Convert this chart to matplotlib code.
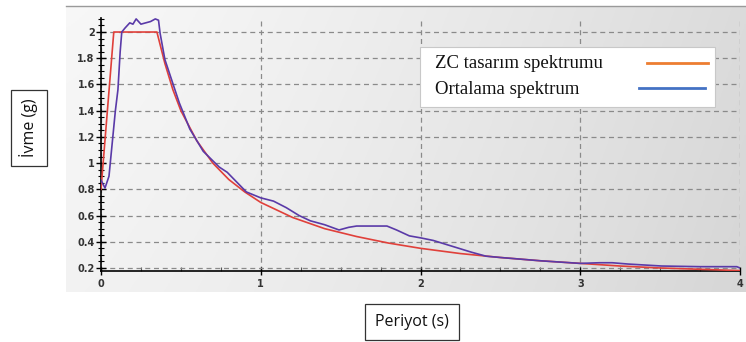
import numpy as np
import matplotlib
matplotlib.use("Agg")
import matplotlib.pyplot as plt
from matplotlib.patches import Rectangle
from matplotlib.lines import Line2D
from matplotlib.ticker import MultipleLocator, FuncFormatter

# ---- data ----
zc_T = [0.0, 0.08, 0.35, 0.40, 0.45, 0.50, 0.60, 0.70, 0.80, 0.90, 1.00, 1.20, 1.40,
        1.60, 1.80, 2.00, 2.25, 2.50, 2.75, 3.00, 3.25, 3.50, 3.75, 4.00]
zc_Sa = [0.80, 2.00, 2.00, 1.76, 1.56, 1.40, 1.17, 1.00, 0.875, 0.78, 0.70, 0.585, 0.50,
         0.44, 0.39, 0.35, 0.31, 0.28, 0.255, 0.235, 0.215, 0.20, 0.19, 0.18]

avg_T = [0.0, 0.025, 0.05, 0.07, 0.09, 0.106, 0.12, 0.13, 0.15, 0.18, 0.20, 0.22, 0.25,
         0.28, 0.31, 0.34, 0.36, 0.37, 0.40, 0.43, 0.49, 0.556, 0.64, 0.74, 0.79, 0.91,
         1.00, 1.08, 1.16, 1.24, 1.31, 1.40, 1.49, 1.55, 1.60, 1.79, 1.85, 1.93, 2.00,
         2.08, 2.16, 2.24, 2.32, 2.41, 2.50, 2.75, 3.00, 3.12, 3.20, 3.30, 3.51, 3.75,
         3.98, 4.00]
avg_Sa = [0.87, 0.81, 0.90, 1.15, 1.40, 1.56, 1.85, 2.00, 2.03, 2.07, 2.06, 2.10, 2.06,
          2.07, 2.08, 2.10, 2.09, 1.99, 1.79, 1.68, 1.46, 1.26, 1.09, 0.97, 0.93, 0.78,
          0.735, 0.71, 0.66, 0.60, 0.56, 0.53, 0.49, 0.51, 0.52, 0.52, 0.49, 0.445, 0.43,
          0.41, 0.38, 0.35, 0.32, 0.29, 0.28, 0.255, 0.235, 0.24, 0.24, 0.23, 0.215, 0.21,
          0.21, 0.20]

x_ticks = [0, 1, 2, 3, 4]
y_ticks = [0.2, 0.4, 0.6, 0.8, 1.0, 1.2, 1.4, 1.6, 1.8, 2.0]
legend_labels = ["ZC tasarım spektrumu", "Ortalama spektrum"]
x_label = "Periyot (s)"
y_label = "İvme (g)"

W, H = 746, 342
fig = plt.figure(figsize=(W / 100, H / 100), dpi=100)
fig.patch.set_facecolor("white")

def fx(px):
    return px / W

def fy(py):
    return 1 - py / H

# gray gradient panel
bx0, by0, bx1, by1 = 66, 6, 746, 292
bg = fig.add_axes([fx(bx0), fy(by1), fx(bx1 - bx0), (by1 - by0) / H], zorder=0)
gx = np.linspace(0, 1, 300)
gy = np.linspace(0, 1, 100)
GX, GY = np.meshgrid(gx, gy)
val = 0.97 - 0.11 * GX ** 1.3 - 0.02 * GY
img = np.dstack([val, val, val])
bg.imshow(img, aspect="auto", extent=[0, 1, 0, 1], origin="upper")
bg.axis("off")
fig.add_artist(Line2D([fx(bx0), 1], [fy(by0), fy(by0)], color="#9a9a9a", lw=1.0))

# main axes
ax_l, ax_r, ax_b, ax_t = 101, 740, 271, 18
ax = fig.add_axes([fx(ax_l), fy(ax_b), fx(ax_r - ax_l), (ax_b - ax_t) / H], zorder=2)
ax.set_facecolor("none")
ax.set_xlim(0, 4)
ax.set_ylim(0.177, 2.107)

ax.plot(zc_T, zc_Sa, color="#e0403a", lw=1.2, zorder=3)
ax.plot(avg_T, avg_Sa, color="#5a3aa8", lw=1.2, zorder=4)

ax.set_xticks(x_ticks)
ax.set_yticks(y_ticks)
fmt = FuncFormatter(lambda v, p: f"{v:g}")
ax.xaxis.set_major_formatter(fmt)
ax.yaxis.set_major_formatter(fmt)
ax.xaxis.set_minor_locator(MultipleLocator(0.25))
ax.yaxis.set_minor_locator(MultipleLocator(0.05))
ax.grid(True, which="major", color="#8a8a8a", ls=(0, (4, 3)), lw=0.9)
for s in ["top", "right"]:
    ax.spines[s].set_visible(False)
for s in ["left", "bottom"]:
    ax.spines[s].set_color("black")
    ax.spines[s].set_linewidth(1.2)
ax.tick_params(axis="y", which="major", direction="inout", length=7, width=1,
               labelsize=7, colors="black", labelcolor="#333333", pad=1)
ax.tick_params(axis="y", which="minor", direction="inout", length=4, width=0.8)
ax.tick_params(axis="x", which="major", direction="inout", length=6, width=1,
               labelsize=7, labelcolor="#333333", pad=3)
ax.tick_params(axis="x", which="minor", direction="in", length=3, width=0.8, color="#555555")
for lab in ax.get_xticklabels() + ax.get_yticklabels():
    lab.set_fontweight("bold")

# manual legend (text left, line right)
lx0, ly0, lx1, ly1 = 420, 47, 715, 107
fig.add_artist(Rectangle((fx(lx0), fy(ly1)), fx(lx1 - lx0), (ly1 - ly0) / H,
                         transform=fig.transFigure, facecolor="white",
                         edgecolor="#c8c8c8", lw=0.8, zorder=5))
leg_colors = ["#ed7d31", "#4472c4"]
leg_lines = [(647, 708, 63), (639, 705, 88)]
leg_text_y = [63, 90]
for lab, c, (a, b, yy), ty in zip(legend_labels, leg_colors, leg_lines, leg_text_y):
    fig.text(fx(435), fy(ty), lab, family="Liberation Serif", fontsize=13.5,
             va="center", ha="left", color="#111111", zorder=6)
    fig.add_artist(Line2D([fx(a), fx(b)], [fy(yy), fy(yy)], color=c, lw=2, zorder=6))

# boxed axis labels
fig.text(fx(412), fy(322), x_label, family="Open Sans", fontsize=11.5, ha="center",
         va="center", color="#111111",
         bbox=dict(boxstyle="square,pad=0.6", facecolor="white", edgecolor="#333333", lw=0.9))
fig.text(fx(29), fy(128), y_label, family="Open Sans", fontsize=11.5, ha="center",
         va="center", rotation=90, color="#111111",
         bbox=dict(boxstyle="square,pad=0.55", facecolor="white", edgecolor="#333333", lw=0.9))

fig.savefig("out.png", dpi=100)
